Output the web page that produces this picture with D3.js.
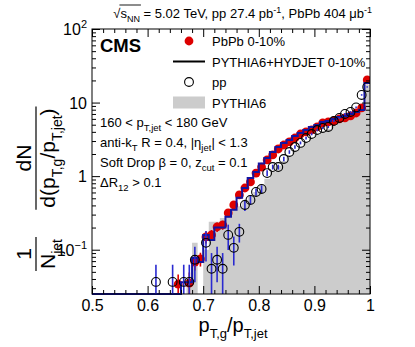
<!DOCTYPE html>
<html>
<head>
<meta charset="utf-8">
<script src="https://cdn.jsdelivr.net/npm/d3@7"></script>
<style>
  body { margin: 0; background: #fff; }
  text { font-family: 'Liberation Sans', Arial, sans-serif; }
</style>
</head>
<body>
<svg id="chart"></svg>
<script>
// bin centres of the p_T,g/p_T,jet histogram (bin width 0.01)
const binCenters = [0.605, 0.615, 0.625, 0.635, 0.645, 0.655, 0.665, 0.675, 0.685, 0.695,
  0.705, 0.715, 0.725, 0.735, 0.745, 0.755, 0.765, 0.775, 0.785, 0.795,
  0.805, 0.815, 0.825, 0.835, 0.845, 0.855, 0.865, 0.875, 0.885, 0.895,
  0.905, 0.915, 0.925, 0.935, 0.945, 0.955, 0.965, 0.975, 0.985, 0.995]
const binWidth = 0.01

// PbPb 0-10% data (null = empty bin)
const pbpb = [null, null, null, null, null, 0.034, null, 0.035, 0.068, 0.075,
  0.149, 0.159, 0.204, 0.217, 0.316, 0.406, 0.556, 0.69, 0.834, 1.10,
  1.33, 1.66, 1.94, 2.34, 2.65, 2.92, 3.30, 3.74, 3.99, 4.24,
  4.66, 5.30, 5.45, 5.62, 6.00, 6.18, 6.58, 7.22, 8.45, 20.3]
const pbpbErr = [0, 0, 0, 0, 0, 0.012, 0, 0.014, 0.016, 0.016,
  0.028, 0.026, 0.03, 0.03, 0.035, 0.04, 0.05, 0.05, 0.06, 0.07,
  0.08, 0.09, 0.1, 0.11, 0.12, 0.13, 0.14, 0.15, 0.16, 0.17,
  0.18, 0.19, 0.2, 0.2, 0.21, 0.21, 0.22, 0.23, 0.26, 0.5]

// pp data
const pp = [null, 0.0365, null, null, 0.0365, null, 0.0365, 0.0365, 0.073, null,
  0.124, 0.055, 0.073, 0.055, 0.159, 0.106, 0.175, 0.406, 0.475, 0.61,
  0.67, 1.10, 1.33, 1.33, 1.71, 2.13, 2.49, 2.83, 3.30, 3.74,
  4.24, 4.52, 4.66, 5.62, 6.18, 7.0, 7.45, 8.6, 12.7, 16.3]
const ppErr = [0, 0.026, 0, 0, 0.026, 0, 0.026, 0.026, 0.037, 0,
  0.055, 0.035, 0.037, 0.035, 0.06, 0.045, 0.05, 0.07, 0.07, 0.07,
  0.08, 0.1, 0.1, 0.1, 0.12, 0.12, 0.13, 0.13, 0.14, 0.15,
  0.16, 0.16, 0.17, 0.18, 0.19, 0.2, 0.2, 0.22, 0.3, 0.35]

// PYTHIA6+HYDJET 0-10% (line) and PYTHIA6 (filled)
const hydjet = [0, 0, 0, 0, 0, 0, 0.036, 0.036, 0.077, 0.068,
  0.159, 0.136, 0.2, 0.2, 0.28, 0.35, 0.51, 0.69, 0.94, 1.14,
  1.48, 1.77, 2.13, 2.49, 2.83, 3.10, 3.52, 3.86, 4.24, 4.66,
  4.96, 5.45, 5.62, 6.0, 6.37, 6.58, 7.0, 7.45, 7.94, 18.5]
const pythia = [0, 0, 0, 0, 0, 0, 0, 0.04, 0.124, 0,
  0.1, 0.24, 0.24, 0.27, 0.33, 0.35, 0.39, 0.475, 0.54, 0.61,
  0.76, 0.92, 1.14, 1.38, 1.6, 1.87, 2.2, 2.49, 2.83, 3.2,
  3.63, 3.99, 4.38, 4.8, 5.3, 5.62, 6.18, 7.0, 9.3, 17.4]

const xDomain = [0.5, 1]
const yDomain = [0.025, 100]
const xTicks = [0.5, 0.6, 0.7, 0.8, 0.9, 1]
const xTickLabels = ['0.5', '0.6', '0.7', '0.8', '0.9', '1']
const yTicks = [100, 10, 1, 0.1]
const yTickLabels = [['10', '2'], ['10', ''], ['1', ''], ['10', '\u22121']]

const legendItems = [
  { label: 'PbPb 0-10%', kind: 'dot' },
  { label: 'PYTHIA6+HYDJET 0-10%', kind: 'line' },
  { label: 'pp', kind: 'open' },
  { label: 'PYTHIA6', kind: 'fill' }
]
const infoLines = [
  [['160 < p', 'n'], ['T,jet', 'sub'], [' < 180 GeV', 'n']],
  [['anti-k', 'n'], ['T', 'sub'], [' R = 0.4, |\u03b7', 'n'], ['jet', 'sub'], ['| < 1.3', 'n']],
  [['Soft Drop \u03b2 = 0, z', 'n'], ['cut', 'sub'], [' = 0.1', 'n']],
  [['\u0394R', 'n'], ['12', 'sub'], [' > 0.1', 'n']]
]

const red = '#dd0000'
const blue = '#1414a0'
const gray = '#cccccc'

const width = 415
const height = 347
const plot = { left: 92, right: 370, top: 29, bottom: 294 }

let svg = d3.select('#chart')
  .attr('width', width)
  .attr('height', height)

let x = d3.scaleLinear().domain(xDomain).range([plot.left, plot.right])
let y = d3.scaleLog().domain(yDomain).range([plot.bottom, plot.top]).clamp(true)

// write text with sub/superscripts as tspans
function rich (textSel, parts, size, small) {
  let shift = 0
  parts.forEach(function (p) {
    let target = p[1] === 'sub' ? size * 0.32 : p[1] === 'sup' ? -size * 0.42 : 0
    textSel.append('tspan')
      .attr('dy', target - shift)
      .attr('font-size', p[1] === 'n' ? size : small)
      .text(p[0])
    shift = target
  })
  return textSel
}

svg.append('defs').append('clipPath').attr('id', 'plotClip')
  .append('rect')
  .attr('x', plot.left).attr('y', plot.top - 1)
  .attr('width', plot.right - plot.left)
  .attr('height', plot.bottom - plot.top + 2)

let stepPts = function (vals) {
  let pts = [[xDomain[0], 0]]
  binCenters.forEach(function (c, i) {
    pts.push([c - binWidth / 2, vals[i] || 0])
    pts.push([c + binWidth / 2, vals[i] || 0])
  })
  return pts
}

let layer = svg.append('g').attr('clip-path', 'url(#plotClip)')

// PYTHIA6 filled histogram
layer.append('path')
  .datum(stepPts(pythia))
  .attr('fill', gray)
  .attr('d', d3.area()
    .x(d => x(d[0]))
    .y0(plot.bottom)
    .y1(d => y(d[1])))

let pbIdx = binCenters.map((c, i) => i).filter(i => pbpb[i] != null)
let ppIdx = binCenters.map((c, i) => i).filter(i => pp[i] != null)

// PbPb
layer.append('g').selectAll('line').data(pbIdx).join('line')
  .attr('x1', i => x(binCenters[i])).attr('x2', i => x(binCenters[i]))
  .attr('y1', i => y(pbpb[i] - pbpbErr[i])).attr('y2', i => y(pbpb[i] + pbpbErr[i]))
  .attr('stroke', red).attr('stroke-width', 1.6)
layer.append('g').selectAll('circle').data(pbIdx).join('circle')
  .attr('cx', i => x(binCenters[i]))
  .attr('cy', i => y(pbpb[i]))
  .attr('r', 4.4)
  .attr('fill', red)

// PYTHIA6+HYDJET step line
layer.append('path')
  .datum(stepPts(hydjet).concat([[xDomain[1], hydjet[hydjet.length - 1]]]))
  .attr('fill', 'none')
  .attr('stroke', blue)
  .attr('stroke-width', 2)
  .attr('d', d3.line().x(d => x(d[0])).y(d => y(d[1])))

// pp
layer.append('g').selectAll('line').data(ppIdx).join('line')
  .attr('x1', i => x(binCenters[i])).attr('x2', i => x(binCenters[i]))
  .attr('y1', i => y(pp[i] - ppErr[i])).attr('y2', i => y(pp[i] + ppErr[i]))
  .attr('stroke', '#2a2ad0').attr('stroke-width', 1.6)
layer.append('g').selectAll('circle').data(ppIdx).join('circle')
  .attr('cx', i => x(binCenters[i]))
  .attr('cy', i => y(pp[i]))
  .attr('r', 4.4)
  .attr('fill', 'none')
  .attr('stroke', '#000')
  .attr('stroke-width', 1.1)

// frame and ticks
let xMinor = d3.range(0.5, 1.0001, 0.02).filter(v => !xTicks.some(t => Math.abs(t - v) < 1e-6))
let yMinor = []
;[0.01, 0.1, 1, 10].forEach(function (dec) {
  for (let k = 2; k <= 9; k++) {
    let v = k * dec
    if (v > yDomain[0] && v < yDomain[1]) yMinor.push(v)
  }
})

function tickAxis (axisFn, scale, vals, size, tf, transform) {
  let g = svg.append('g')
    .attr('transform', transform)
    .call(axisFn(scale).tickValues(vals).tickSize(size).tickSizeOuter(0).tickFormat(tf).tickPadding(6))
  g.select('.domain').remove()
  g.selectAll('.tick line').attr('stroke', '#000').attr('stroke-width', 1)
  return g
}

let xAxis = tickAxis(d3.axisBottom, x, xTicks, -8, (d, i) => xTickLabels[i], 'translate(0,' + plot.bottom + ')')
xAxis.selectAll('text').attr('font-size', 16).attr('fill', '#000').attr('font-family', 'Liberation Sans, Arial, sans-serif')
tickAxis(d3.axisBottom, x, xMinor, -4, '', 'translate(0,' + plot.bottom + ')')
tickAxis(d3.axisTop, x, xTicks, -8, '', 'translate(0,' + plot.top + ')')
tickAxis(d3.axisTop, x, xMinor, -4, '', 'translate(0,' + plot.top + ')')
tickAxis(d3.axisLeft, y, yTicks, -8, '', 'translate(' + plot.left + ',0)')
tickAxis(d3.axisLeft, y, yMinor, -4, '', 'translate(' + plot.left + ',0)')
tickAxis(d3.axisRight, y, yTicks, -8, '', 'translate(' + plot.right + ',0)')
tickAxis(d3.axisRight, y, yMinor, -4, '', 'translate(' + plot.right + ',0)')

svg.append('rect')
  .attr('x', plot.left).attr('y', plot.top)
  .attr('width', plot.right - plot.left).attr('height', plot.bottom - plot.top)
  .attr('fill', 'none').attr('stroke', '#000').attr('stroke-width', 1)

// y tick labels with exponents
yTicks.forEach(function (t, i) {
  let lab = yTickLabels[i]
  let txt = svg.append('text')
    .attr('x', plot.left - 5)
    .attr('y', y(t) + 6)
    .attr('text-anchor', 'end')
  txt.append('tspan').attr('font-size', 16).text(lab[0])
  if (lab[1]) {
    txt.append('tspan').attr('font-size', 11).attr('dy', -7).text(lab[1])
  }
})

// x title
rich(svg.append('text')
  .attr('x', (plot.left + plot.right) / 2 + 2)
  .attr('y', 332)
  .attr('text-anchor', 'middle'),
[['p', 'n'], ['T,g', 'sub'], ['/p', 'n'], ['T,jet', 'sub']], 20, 13)

// y title: 1/N_jet  dN/d(p_T,g/p_T,jet)
let yt = svg.append('g').attr('transform', 'translate(36,0) rotate(-90)')
function fraction (center, num, den) {
  let n = rich(yt.append('text').attr('x', center).attr('y', -5).attr('text-anchor', 'middle'), num, 21, 14)
  let d = rich(yt.append('text').attr('x', center).attr('y', 19).attr('text-anchor', 'middle'), den, 21, 14)
  let w = Math.max(n.node().getComputedTextLength(), d.node().getComputedTextLength()) + 4
  yt.append('line')
    .attr('x1', center - w / 2).attr('x2', center + w / 2)
    .attr('y1', 0).attr('y2', 0)
    .attr('stroke', '#000').attr('stroke-width', 1.2)
}
fraction(-254, [['1', 'n']], [['N', 'n'], ['jet', 'sub']])
fraction(-158, [['dN', 'n']], [['d(p', 'n'], ['T,g', 'sub'], ['/p', 'n'], ['T,jet', 'sub'], [')', 'n']])

// header
let head = rich(svg.append('text')
  .attr('x', 372).attr('y', 18)
  .attr('text-anchor', 'end'),
[['\u221a', 'n'], ['s', 'n'], ['NN', 'sub'], [' = 5.02 TeV, pp 27.4 pb', 'n'], ['-1', 'sup'], [', PbPb 404 \u03bcb', 'n'], ['-1', 'sup']], 13, 9)
let hn = head.node()
let s0 = hn.getStartPositionOfChar(1).x
let s1 = hn.getEndPositionOfChar(3).x
svg.append('line')
  .attr('x1', s0 - 1).attr('x2', s1 + 1)
  .attr('y1', 5).attr('y2', 5)
  .attr('stroke', '#000').attr('stroke-width', 0.9)

// CMS label
svg.append('text')
  .attr('x', 100).attr('y', 52)
  .attr('font-size', 18.5)
  .attr('font-weight', 'bold')
  .text('CMS')

// legend
let leg = svg.append('g')
legendItems.forEach(function (item, i) {
  let cy = 41 + i * 20.5
  if (item.kind === 'dot') {
    leg.append('circle').attr('cx', 189).attr('cy', cy).attr('r', 4.4).attr('fill', red)
  } else if (item.kind === 'line') {
    leg.append('line').attr('x1', 173).attr('x2', 205).attr('y1', cy).attr('y2', cy)
      .attr('stroke', '#000').attr('stroke-width', 2)
  } else if (item.kind === 'open') {
    leg.append('circle').attr('cx', 189).attr('cy', cy).attr('r', 4.4)
      .attr('fill', 'none').attr('stroke', '#000').attr('stroke-width', 1.1)
  } else {
    leg.append('rect').attr('x', 173).attr('y', cy - 6).attr('width', 32).attr('height', 12)
      .attr('fill', gray)
  }
  leg.append('text')
    .attr('x', 212).attr('y', cy + 5)
    .attr('font-size', 13)
    .text(item.label)
})

// selection text
infoLines.forEach(function (parts, i) {
  rich(svg.append('text').attr('x', 100).attr('y', 127 + i * 20), parts, 13, 9.5)
})
</script>
</body>
</html>
